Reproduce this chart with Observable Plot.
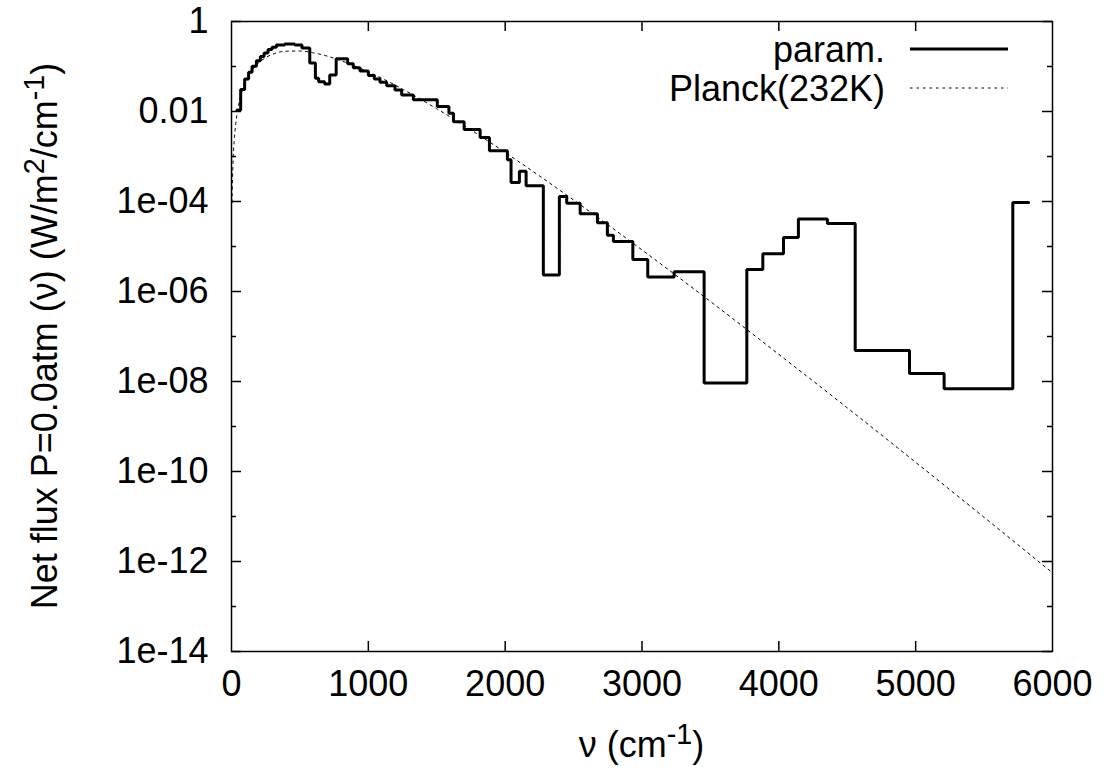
<!DOCTYPE html>
<html>
<head>
<meta charset="utf-8">
<script src="https://cdn.jsdelivr.net/npm/d3@7"></script>
<script src="https://cdn.jsdelivr.net/npm/@observablehq/plot@0.6"></script>
<style>
  html, body { margin: 0; padding: 0; background: white; }
  svg text { font-family: "Liberation Sans", Arial, Helvetica, sans-serif; }
</style>
</head>
<body>
<div id="chart"></div>
<script>
// ---- data ----
// "param." step curve: bin edges (cm^-1) and flux per bin (W/m^2/cm^-1)
const paramEdges = [40, 67, 96, 125, 150, 182, 211, 238, 267, 296, 328, 389, 462, 515, 572, 613, 637, 681, 718, 765,
  849, 890, 939, 1000, 1044, 1085, 1134, 1195, 1244, 1329, 1504, 1589, 1622, 1700, 1817, 1885, 2016, 2043, 2104, 2153,
  2279, 2396, 2450, 2548, 2674, 2747, 2791, 2933, 3042, 3235, 3454, 3766, 3883, 4034, 4143, 4355, 4558, 4955, 5208, 5710, 5825];
const paramFlux = [1.07e-2, 3.09e-2, 5.25e-2, 7.41e-2, 1.01e-1, 1.35e-1, 1.66e-1, 2.0e-1, 2.4e-1, 2.69e-1, 3.02e-1, 3.16e-1, 3.02e-1, 2.57e-1, 1.2e-1, 5.5e-2, 4.57e-2, 4.07e-2, 6.46e-2,
  1.48e-1, 1.15e-1, 9.33e-2, 7.94e-2, 6.31e-2, 5.25e-2, 4.47e-2, 3.72e-2, 3.02e-2, 2.34e-2, 1.82e-2, 1.29e-2, 9.1e-3, 5.9e-3, 3.98e-3, 2.63e-3, 1.35e-3, 8.5e-4, 2.63e-4, 4.68e-4,
  2.24e-4, 2.34e-6, 1.29e-4, 9.1e-5, 5.37e-5, 3.39e-5, 1.78e-5, 1.29e-5, 5.13e-6, 2.09e-6, 2.75e-6, 9.3e-9, 3.09e-6, 6.9e-6, 1.58e-5, 4.07e-5, 3.24e-5, 4.9e-8, 1.51e-8, 6.9e-9, 9.55e-5];

// "Planck(232K)" dotted curve: points
const planckNu = [4, 5, 10, 20, 30, 40, 60, 80, 100, 150, 200, 250, 300, 400, 500, 600, 700, 800, 1000, 1250, 1500, 1750,
  2000, 2500, 3000, 3500, 4000, 4500, 5000, 5500, 6000];
const planckFlux = [9.5e-5, 1.49e-4, 5.85e-4, 2.27e-3, 4.95e-3, 8.5e-3, 1.8e-2, 2.99e-2, 4.36e-2, 8.24e-2, 1.22e-1, 1.58e-1, 1.87e-1, 2.19e-1, 2.21e-1, 2.01e-1, 1.70e-1, 1.35e-1, 7.6e-2, 3.15e-2, 1.15e-2, 3.9e-3,
  1.23e-3, 1.08e-4, 8.4e-6, 6.0e-7, 4.0e-8, 2.6e-9, 1.6e-10, 9.6e-12, 5.6e-13];

// axes
const xTickValues = [0, 1000, 2000, 3000, 4000, 5000, 6000];
const yMajorValues = [1, 1e-2, 1e-4, 1e-6, 1e-8, 1e-10, 1e-12, 1e-14];
const yMajorLabels = ["1", "0.01", "1e-04", "1e-06", "1e-08", "1e-10", "1e-12", "1e-14"];
const yMinorValues = [1e-1, 1e-3, 1e-5, 1e-7, 1e-9, 1e-11, 1e-13];

const seriesNames = ["param.", "Planck(232K)"];

// ---- build ----
const W = 1109, H = 770;
const mL = 231, mR = 57, mT = 21, mB = 119;
const pw = W - mL - mR, ph = H - mT - mB;
const majorLen = 10, minorLen = 5;

const paramRows = paramEdges.map((e, i) => ({nu: e, v: paramFlux[Math.min(i, paramFlux.length - 1)]}));
const planckRows = planckNu.map((n, i) => ({nu: n, v: planckFlux[i]}));
const yLabelMap = new Map(yMajorValues.map((v, i) => [v, yMajorLabels[i]]));
const innerX = xTickValues.filter(d => d > 0 && d < 6000);

const chart = Plot.plot({
  width: W, height: H,
  marginLeft: mL, marginRight: mR, marginTop: mT, marginBottom: mB,
  style: {background: "white", color: "black", fontFamily: "Liberation Sans, Arial, sans-serif"},
  x: {domain: [0, 6000]},
  y: {type: "log", domain: [1e-14, 1]},
  marks: [
    Plot.axisY(yMajorValues, {tickSize: 0, tickPadding: 23, fontSize: 36, tickFormat: d => yLabelMap.get(d), label: null}),
    Plot.axisX(xTickValues, {tickSize: 0, tickPadding: 19, fontSize: 36, tickFormat: d => String(d), label: null}),
    // inward ticks on all four sides
    Plot.tickY(yMajorValues, {y: d => d, insetRight: pw - majorLen, stroke: "black", strokeWidth: 1.5}),
    Plot.tickY(yMajorValues, {y: d => d, insetLeft: pw - majorLen, stroke: "black", strokeWidth: 1.5}),
    Plot.tickY(yMinorValues, {y: d => d, insetRight: pw - minorLen, stroke: "black", strokeWidth: 1.5}),
    Plot.tickY(yMinorValues, {y: d => d, insetLeft: pw - minorLen, stroke: "black", strokeWidth: 1.5}),
    Plot.tickX(innerX, {x: d => d, insetTop: ph - majorLen, stroke: "black", strokeWidth: 1.5}),
    Plot.tickX(innerX, {x: d => d, insetBottom: ph - majorLen, stroke: "black", strokeWidth: 1.5}),
    Plot.line(planckRows, {x: "nu", y: "v", curve: "monotone-x", stroke: "black", strokeWidth: 1, strokeDasharray: "2.5,4"}),
    Plot.line(paramRows, {x: "nu", y: "v", curve: "step-after", stroke: "black", strokeWidth: 3, strokeLinejoin: "miter"}),
    Plot.frame({stroke: "black", strokeWidth: 1.5})
  ]
});

document.getElementById("chart").appendChild(chart);

// ---- labels with superscripts and legend ----
const svg = d3.select(chart);
function richText(sel, parts) {
  let pendingDy = null;
  parts.forEach(p => {
    if (typeof p === "string") {
      const t = sel.append("tspan").text(p);
      if (pendingDy) { t.attr("dy", pendingDy); pendingDy = null; }
    } else {
      sel.append("tspan").attr("dy", "-0.45em").attr("font-size", "0.8em").text(p.sup);
      pendingDy = "0.36em";
    }
  });
}
const yLab = svg.append("text")
  .attr("transform", `translate(57,${mT + ph / 2}) rotate(-90)`)
  .attr("text-anchor", "middle").attr("font-size", 36).attr("fill", "black");
richText(yLab, ["Net flux P=0.0atm (\u03BD) (W/m", {sup: "2"}, "/cm", {sup: "-1"}, ")"]);

const xLab = svg.append("text")
  .attr("x", mL + pw / 2).attr("y", 757)
  .attr("text-anchor", "middle").attr("font-size", 36).attr("fill", "black");
richText(xLab, ["\u03BD (cm", {sup: "-1"}, ")"]);

// legend inside the frame, top right
const leg = svg.append("g");
const rowsY = [49, 88];
seriesNames.forEach((name, i) => {
  leg.append("text").attr("x", 885).attr("y", rowsY[i] + 12.5)
    .attr("text-anchor", "end").attr("font-size", 36).attr("fill", "black").text(name);
  leg.append("line").attr("x1", 910).attr("x2", 1008).attr("y1", rowsY[i]).attr("y2", rowsY[i])
    .attr("stroke", "black")
    .attr("stroke-width", i === 0 ? 3 : 1)
    .attr("stroke-dasharray", i === 0 ? null : "2.5,4");
});
</script>
</body>
</html>
